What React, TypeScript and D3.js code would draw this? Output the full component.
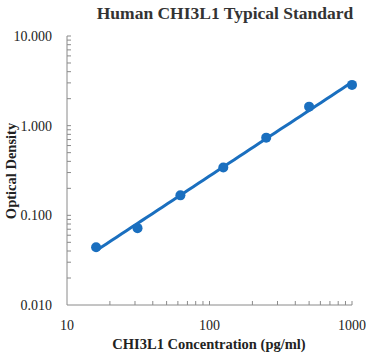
import React from "react";
import * as d3 from "d3";

const concentrations = [16, 31.25, 62.5, 125, 250, 500, 1000];
const odValues = [0.044, 0.072, 0.167, 0.341, 0.735, 1.63, 2.85];
const yTickValues = [0.01, 0.1, 1, 10];
const yTickLabels = ["0.010", "0.100", "1.000", "10.000"];
const xTickValues = [10, 100, 1000];
const xTickLabels = ["10", "100", "1000"];

const W = 366, H = 354;
const M = { left: 67, right: 14, top: 36, bottom: 49 };

export default function App() {
  const x = d3.scaleLog().domain([10, 1000]).range([M.left, W - M.right]);
  const y = d3.scaleLog().domain([0.01, 10]).range([H - M.bottom, M.top]);

  // power-law fit in log-log space
  const lx = concentrations.map(Math.log10);
  const ly = odValues.map(Math.log10);
  const mx = d3.mean(lx)!, my = d3.mean(ly)!;
  const b = d3.sum(lx.map((v, i) => (v - mx) * (ly[i] - my))) / d3.sum(lx.map(v => (v - mx) ** 2));
  const a = my - b * mx;
  const fit = (c: number) => Math.pow(10, a + b * Math.log10(c));
  const fitPts = d3.range(0, 51).map(i => {
    const c = Math.pow(10, Math.log10(16) + (i / 50) * (Math.log10(1000) - Math.log10(16)));
    return [c, fit(c)] as [number, number];
  });
  const line = d3.line<[number, number]>().x(d => x(d[0])).y(d => y(d[1]));

  const xMinor: number[] = [];
  for (const dec of [10, 100]) for (let k = 2; k <= 10; k++) xMinor.push(dec * k);
  const yMinor: number[] = [];
  for (const dec of [0.01, 0.1, 1]) for (let k = 2; k <= 10; k++) yMinor.push(dec * k);

  const axisColor = "#8a8a8a";
  const blue = "#1a6fbf";
  const font = "'Liberation Serif', 'Times New Roman', serif";

  return (
    <svg width={W} height={H} style={{ position: "absolute", left: 0, top: 0, background: "#fff" }}>
      <text x={225} y={19} textAnchor="middle" fontFamily={font} fontWeight="bold" fontSize={17.5} fill="#333">
        Human CHI3L1 Typical Standard
      </text>
      {/* axes */}
      <line x1={M.left} x2={M.left} y1={M.top} y2={H - M.bottom} stroke={axisColor} strokeWidth={1} />
      <line x1={M.left} x2={W - M.right} y1={H - M.bottom} y2={H - M.bottom} stroke={axisColor} strokeWidth={1} />
      {xMinor.map((v, i) => (
        <line key={"xm" + i} x1={x(v)} x2={x(v)} y1={H - M.bottom} y2={H - M.bottom - 4} stroke={axisColor} />
      ))}
      {yMinor.map((v, i) => (
        <line key={"ym" + i} x1={M.left} x2={M.left + 4} y1={y(v)} y2={y(v)} stroke={axisColor} />
      ))}
      {yTickValues.map((v, i) => (
        <text key={"yt" + i} x={52} y={y(v) + 5} textAnchor="end" fontFamily={font} fontSize={14} fill="#222">
          {yTickLabels[i]}
        </text>
      ))}
      {xTickValues.map((v, i) => (
        <text key={"xt" + i} x={x(v)} y={H - M.bottom + 25} textAnchor="middle" fontFamily={font} fontSize={14} fill="#222">
          {xTickLabels[i]}
        </text>
      ))}
      <text x={209} y={349} textAnchor="middle" fontFamily={font} fontWeight="bold" fontSize={14.5} fill="#222">
        CHI3L1 Concentration (pg/ml)
      </text>
      <text transform={`translate(16,${171}) rotate(-90)`} textAnchor="middle" fontFamily={font} fontWeight="bold" fontSize={14.5} fill="#222">
        Optical Density
      </text>
      <path d={line(fitPts) || ""} fill="none" stroke={blue} strokeWidth={3} />
      {concentrations.map((c, i) => (
        <circle key={"p" + i} cx={x(c)} cy={y(odValues[i])} r={5} fill={blue} />
      ))}
    </svg>
  );
}
